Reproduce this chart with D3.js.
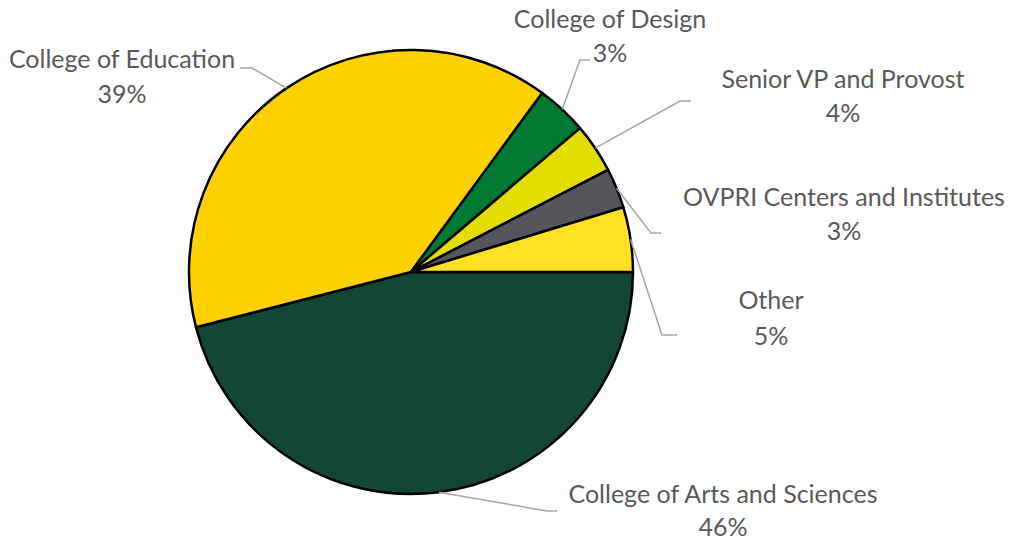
<!DOCTYPE html>
<html><head><meta charset="utf-8">
<script src="https://cdn.jsdelivr.net/npm/d3@7"></script>
<style>body{margin:0;background:#fff}svg{display:block}</style>
</head><body>
<svg id="c" width="1015" height="541"></svg>
<script>
const categories = ["College of Arts and Sciences","College of Education","College of Design","Senior VP and Provost","OVPRI Centers and Institutes","Other"];
const values = [45.9, 39.0, 3.7, 3.6, 2.9, 4.7];
const percentLabels = ["46%","39%","3%","4%","3%","5%"];
const colors = ["#134633","#FFD100","#007A33","#E1DE00","#54565B","#FFE122"];
// label layout: text centre x, baselines of two lines, leader elbow (ex,ey) and leader end x (lx)
const labelLayout = [
  {x:723, y1:503, y2:536, ex:547, ey:511, lx:557},
  {x:122, y1:68,  y2:103, ex:252, ey:68,  lx:240},
  {x:610, y1:28,  y2:62,  ex:580, ey:60,  lx:590},
  {x:843, y1:88,  y2:122, ex:680, ey:101, lx:691},
  {x:844, y1:206, y2:240, ex:651, ey:233, lx:661},
  {x:771, y1:309, y2:345, ex:662, ey:335, lx:677}
];
const cx = 411, cy = 272, r = 222;
const svg = d3.select("#c");
const pie = d3.pie().sort(null).value(d=>d).startAngle(Math.PI/2).endAngle(Math.PI/2 + 2*Math.PI);
const arcs = pie(values);
const arc = d3.arc().innerRadius(0).outerRadius(r);
const g = svg.append("g").attr("transform",`translate(${cx},${cy})`);
g.selectAll("path").data(arcs).join("path")
  .attr("d",arc).attr("fill",(d,i)=>colors[i])
  .attr("stroke","#000").attr("stroke-width",2.5).attr("stroke-linejoin","round");
// leaders
arcs.forEach((d,i)=>{
  const a = (d.startAngle+d.endAngle)/2;
  const sx = cx + r*Math.sin(a), sy = cy - r*Math.cos(a);
  const L = labelLayout[i];
  svg.append("polyline")
    .attr("points",`${sx},${sy} ${L.ex},${L.ey} ${L.lx},${L.ey}`)
    .attr("fill","none").attr("stroke","#A6A6A6").attr("stroke-width",1.5);
});
// labels
categories.forEach((c,i)=>{
  const L = labelLayout[i];
  const t = svg.append("text").attr("text-anchor","middle")
    .attr("font-family","Lato, 'Open Sans', sans-serif").attr("font-size",25).attr("fill","#595959");
  t.append("tspan").attr("x",L.x).attr("y",L.y1).text(c);
  t.append("tspan").attr("x",L.x).attr("y",L.y2).text(percentLabels[i]);
});
</script>
</body></html>
